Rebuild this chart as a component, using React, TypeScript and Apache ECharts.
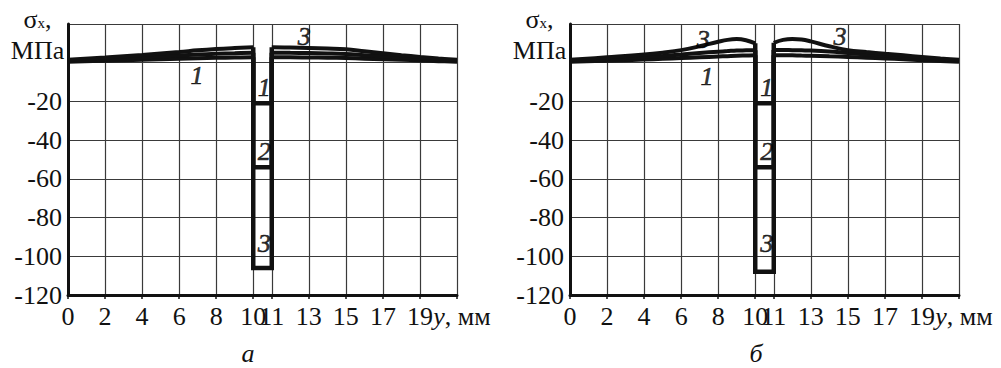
import React, { useEffect, useRef } from 'react';
import * as echarts from 'echarts';

const FONT = 'Liberation Serif, Times New Roman, serif';
const INK = '#111111';
const GRID = '#3a3a3a';

// x tick positions (mm) and y ticks (MPa)
const xTicks = [0, 2, 4, 6, 8, 10, 11, 13, 15, 17, 19, 21];
const yMin = -120;
const yMax = 20;
const yStep = 20;

// ---- panel а ----
const aXLeft = [0, 2, 4, 6, 7, 8, 9, 10];
const a1Left = [0.5, 1.0, 1.5, 2.0, 2.3, 2.5, 2.7, 2.8];
const a2Left = [1.0, 1.8, 2.7, 3.7, 4.2, 4.6, 4.9, 5.2];
const a3Left = [1.5, 2.7, 4.0, 5.5, 6.4, 7.1, 7.6, 8.0];
const aXRight = [11, 12, 13, 14, 15, 16, 17, 18, 19, 20, 21];
const a1Right = [2.8, 2.8, 2.7, 2.6, 2.4, 2.1, 1.8, 1.5, 1.2, 0.8, 0.5];
const a2Right = [5.2, 5.1, 5.0, 4.8, 4.5, 3.9, 3.3, 2.7, 2.1, 1.5, 1.0];
const a3Right = [8.0, 7.8, 7.6, 7.3, 6.9, 5.9, 4.9, 3.9, 3.0, 2.2, 1.5];
const aBottoms = [-21, -54, -106];
const aNotes: [number, number, string][] = [
  [6.97, -6.5, '1'], [10.6, -13, '1'], [10.6, -46, '2'], [10.6, -93.5, '3'], [12.75, 13.8, '3'],
];

// ---- panel б ----
const bXLeft = [0, 2, 4, 5, 6, 7, 8, 8.5, 9, 9.5, 10];
const b1Left = [0.5, 1.0, 1.6, 2.0, 2.4, 2.8, 3.2, 3.4, 3.6, 3.7, 3.8];
const b2Left = [1.0, 1.9, 2.9, 3.5, 4.2, 5.0, 5.7, 6.0, 6.3, 6.4, 6.5];
const b3Left = [1.5, 2.8, 4.2, 5.2, 6.5, 8.5, 10.8, 11.8, 12.2, 11.6, 10.0];
const bXRight = [11, 11.5, 12, 12.5, 13, 14, 15, 16, 17, 18, 19, 20, 21];
const b1Right = [3.9, 3.9, 3.8, 3.7, 3.6, 3.3, 3.0, 2.6, 2.2, 1.8, 1.3, 0.9, 0.5];
const b2Right = [6.6, 6.6, 6.5, 6.4, 6.3, 5.8, 5.0, 4.3, 3.6, 3.0, 2.4, 1.7, 1.0];
const b3Right = [10.3, 11.8, 12.3, 12.0, 11.0, 8.5, 6.5, 5.5, 4.6, 3.8, 3.0, 2.2, 1.5];
const bBottoms = [-21, -54, -108];
const bNotes: [number, number, string][] = [
  [7.4, -7, '1'], [10.62, -13, '1'], [10.62, -46, '2'], [10.62, -93.5, '3'], [7.2, 12.2, '3'], [14.58, 13.4, '3'],
];

const grooveFrom = 10;
const grooveTo = 11;

const panels = [
  { xl: aXLeft, left: [a1Left, a2Left, a3Left], xr: aXRight, right: [a1Right, a2Right, a3Right], bottoms: aBottoms, notes: aNotes },
  { xl: bXLeft, left: [b1Left, b2Left, b3Left], xr: bXRight, right: [b1Right, b2Right, b3Right], bottoms: bBottoms, notes: bNotes },
];

const gridPos = [
  { left: 68, top: 24, width: 389, height: 271 },
  { left: 570, top: 24, width: 389, height: 271 },
];

export default function App() {
  const ref = useRef<HTMLDivElement>(null);
  useEffect(() => {
    document.body.style.margin = '0';
    if (!ref.current) return;
    const chart = echarts.init(ref.current, undefined, { renderer: 'svg' });

    const xAxes = gridPos.map((_, gi) => ({
      type: 'value',
      gridIndex: gi,
      min: 0,
      max: 21,
      axisLine: { show: true, onZero: false, lineStyle: { color: INK, width: 3 } },
      axisTick: { show: true, customValues: xTicks, length: 4, lineStyle: { color: INK, width: 1.5 } },
      splitLine: { show: true, lineStyle: { color: GRID, width: 1.2 } },
      axisLabel: {
        customValues: xTicks,
        margin: 8,
        color: INK,
        fontFamily: FONT,
        fontSize: 26,
        formatter: (v: number) => (v === 21 ? '{i|y}{n|, мм}' : String(v)),
        rich: {
          i: { fontFamily: FONT, fontSize: 26, fontStyle: 'italic', color: INK, padding: [0, 0, 0, 10] },
          n: { fontFamily: FONT, fontSize: 26, color: INK },
        },
      },
    }));

    const yAxes = gridPos.map((_, gi) => ({
      type: 'value',
      gridIndex: gi,
      min: yMin,
      max: yMax,
      interval: yStep,
      axisLine: { show: true, onZero: false, lineStyle: { color: INK, width: 3 } },
      axisTick: { show: false },
      splitLine: { show: true, lineStyle: { color: GRID, width: 1.2 } },
      axisLabel: {
        margin: 6,
        color: INK,
        fontFamily: FONT,
        fontSize: 26,
        formatter: (v: number) => (v === 20 || v === 0 ? '' : String(v)),
      },
    }));

    const series: any[] = [];
    panels.forEach((p, gi) => {
      const base = { xAxisIndex: gi, yAxisIndex: gi, symbol: 'none', silent: true, animation: false };
      for (let k = 0; k < 3; k++) {
        series.push({
          ...base, type: 'line', smooth: 0.4,
          data: p.xl.map((x, i) => [x, p.left[k][i]]),
          lineStyle: { color: INK, width: 4 },
        });
        series.push({
          ...base, type: 'line', smooth: 0.4,
          data: p.xr.map((x, i) => [x, p.right[k][i]]),
          lineStyle: { color: INK, width: 4 },
        });
        const lt = p.left[k][p.left[k].length - 1];
        const rt = p.right[k][0];
        series.push({
          ...base, type: 'line', smooth: false,
          data: [[grooveFrom, lt], [grooveFrom, p.bottoms[k]], [grooveTo, p.bottoms[k]], [grooveTo, rt]],
          lineStyle: { color: INK, width: 4.5, join: 'miter' },
        });
      }
      series.push({
        xAxisIndex: gi, yAxisIndex: gi, silent: true,
        type: 'scatter', symbol: 'circle', symbolSize: 1, z: 10,
        itemStyle: { color: 'rgba(0,0,0,0)' },
        data: p.notes.map((n) => ({ value: [n[0], n[1]], name: n[2] })),
        label: {
          show: true, position: 'inside',
          formatter: (q: any) => q.name,
          fontFamily: FONT, fontSize: 26, fontStyle: 'italic', color: '#000000',
          textBorderColor: '#000000', textBorderWidth: 0.6,
        },
      });
    });

    const nameTexts = (cx: number) => [
      {
        type: 'text', x: cx, y: 19,
        style: {
          text: '{s|σ}{sub|x}{s|,}',
          textAlign: 'center', textVerticalAlign: 'middle',
          rich: {
            s: { fontFamily: FONT, fontSize: 26, fill: INK },
            sub: { fontFamily: FONT, fontSize: 15, fill: INK, padding: [8, 0, 0, 0] },
          },
        },
      },
      {
        type: 'text', x: cx, y: 50,
        style: { text: 'МПа', fontFamily: FONT, fontSize: 26, fill: INK, textAlign: 'center', textVerticalAlign: 'middle' },
      },
    ];

    chart.setOption({
      animation: false,
      backgroundColor: '#ffffff',
      grid: gridPos.map((g) => ({ ...g, containLabel: false })),
      xAxis: xAxes,
      yAxis: yAxes,
      series,
      graphic: [
        ...nameTexts(37.5),
        ...nameTexts(539.5),
        {
          type: 'text', x: 248, y: 353,
          style: { text: 'а', fontFamily: FONT, fontSize: 26, fontStyle: 'italic', lineHeight: 20, fill: INK, textAlign: 'center', textVerticalAlign: 'middle' },
        },
        {
          type: 'text', x: 756, y: 353,
          style: { text: 'б', fontFamily: FONT, fontSize: 26, fontStyle: 'italic', lineHeight: 20, fill: INK, textAlign: 'center', textVerticalAlign: 'middle' },
        },
      ],
    });
    return () => chart.dispose();
  }, []);
  return <div ref={ref} style={{ width: 1001, height: 368 }} />;
}
